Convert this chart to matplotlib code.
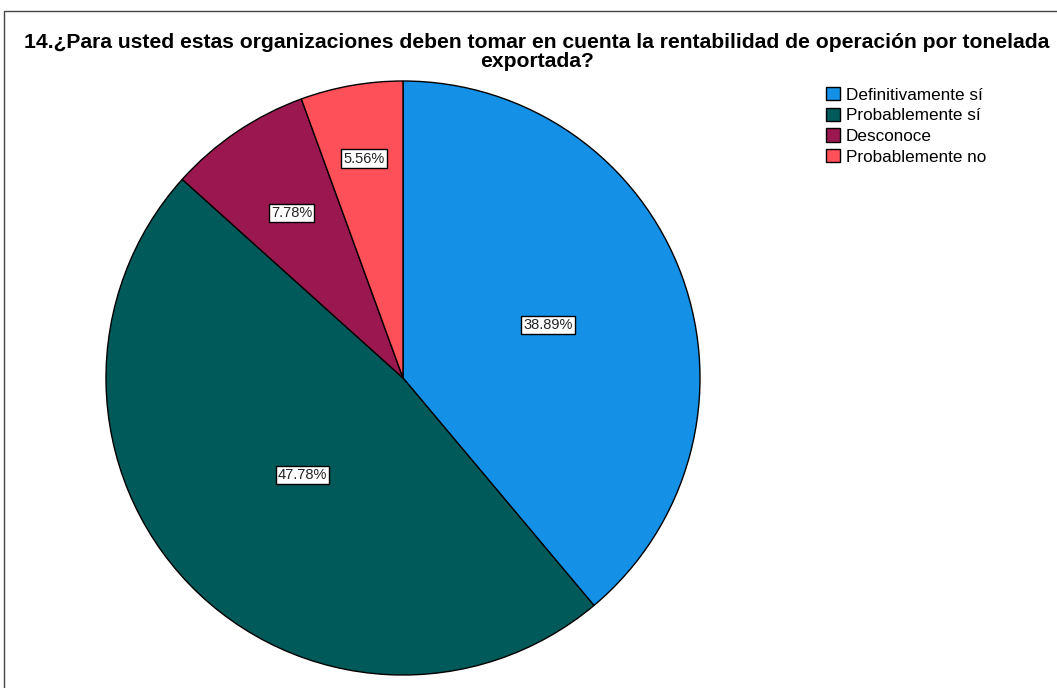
import matplotlib
matplotlib.use("Agg")
import matplotlib.pyplot as plt
import numpy as np
from matplotlib.patches import Rectangle

plt.rcParams['font.family'] = ['Liberation Sans', 'DejaVu Sans']

categories = ["Definitivamente sí", "Probablemente sí", "Desconoce", "Probablemente no"]
values = [38.89, 47.78, 7.78, 5.56]
labels = ["38.89%", "47.78%", "7.78%", "5.56%"]
colors = ["#1490E6", "#005A5A", "#9A1750", "#FE5058"]
title = "14.¿Para usted estas organizaciones deben tomar en cuenta la rentabilidad de operación por tonelada\nexportada?"
label_r = [0.52, 0.47, 0.67, 0.75]

W, H = 1057, 688
fig = plt.figure(figsize=(W/100, H/100), dpi=100)

# outer frame
fig.add_artist(Rectangle((4/W, -0.01), 1.2, 1 - 11/H + 0.01, transform=fig.transFigure,
                         fill=False, edgecolor="#444444", linewidth=1))

cx, cy, r = 403, 378, 297
ax = fig.add_axes([(cx - r)/W, (H - cy - r)/H, 2*r/W, 2*r/H])
wedges, _ = ax.pie(values, colors=colors, startangle=90, counterclock=False,
                   wedgeprops=dict(edgecolor="black", linewidth=1), radius=1)
ax.set_xlim(-1, 1); ax.set_ylim(-1, 1)
ax.set_aspect("equal")
ax.axis("off")

for w, lab, lr in zip(wedges, labels, label_r):
    ang = np.deg2rad((w.theta1 + w.theta2) / 2)
    ax.text(lr*np.cos(ang), lr*np.sin(ang), lab, ha="center", va="center", fontsize=10.5,
            color="#222222",
            bbox=dict(boxstyle="square,pad=0.15", facecolor="white", edgecolor="black", linewidth=1))

fig.text(537/W, 1 - 52/H, title, ha="center", va="center", fontsize=15.2,
         fontweight="bold", linespacing=1.0)

leg = fig.legend(wedges, categories, loc="upper left", bbox_to_anchor=(826/W, 1 - 87/H),
                 frameon=False, fontsize=12.3, handlelength=0.82, handleheight=0.82,
                 handletextpad=0.33, labelspacing=0.3, borderaxespad=0, borderpad=0)

fig.savefig("out.png", dpi=100)
